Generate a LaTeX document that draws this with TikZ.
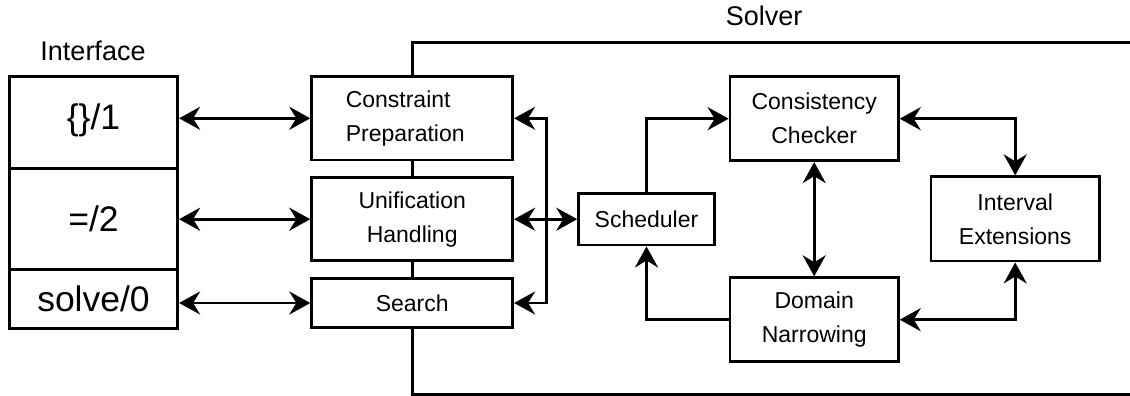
\documentclass[tikz,border=0pt]{standalone}
\usepackage{fontspec}
\setmainfont{Liberation Sans}
\usetikzlibrary{arrows.meta}
\begin{document}
\begin{tikzpicture}[x=1pt,y=-1pt,
  lw/.style={line width=2.8pt},
  blk/.style={lw,draw=black,fill=white,inner sep=0pt,align=center,
    font=\fontsize{23}{34}\selectfont},
  cell/.style={lw,draw=black,fill=white,inner sep=0pt,align=center,
    minimum width=168.4pt,font=\fontsize{35.5}{40}\selectfont},
  lbl/.style={anchor=base,inner sep=0pt,font=\fontsize{27}{32}\selectfont},
  conn/.style={lw,line join=miter},
  tip/.tip={Stealth[length=21pt,width=23pt,inset=7pt]},
  >=tip]
\useasboundingbox (0,0) rectangle (1130,396);
% solver frame
\draw[lw] (1140,42.7) -- (412.2,42.7) -- (412.2,394.3) -- (1140,394.3);
% labels
\node[lbl] (tint) at (93,60) {Interface};
\node[lbl] (tsol) at (764.2,26) {Solver};
% interface stack
\node[cell,minimum height=91.6pt] (if1) at (93.5,122.5) {\raisebox{2.5pt}[\height][\depth]{\{\}/1}};
\node[cell,minimum height=101pt] (if2) at (93.5,218.8) {=/2};
\node[cell,minimum height=59pt] (if3) at (93.5,298.8) {solve/0};
% solver boxes
\node[blk,align=left,minimum width=201pt,minimum height=83.3pt] (cp) at (412.2,118.3) {Constraint\\Preparation\hspace*{14pt}};
\node[blk,minimum width=201pt,minimum height=83pt] (uh) at (412.2,219.2) {Unification\\Handling};
\node[blk,minimum width=201pt,minimum height=49.4pt] (se) at (412.2,303) {Search};
\node[blk,minimum width=135.7pt,minimum height=51.7pt] (sch) at (646.5,219.2) {Scheduler};
\node[blk,minimum width=168.3pt,minimum height=84pt] (cc) at (814.2,118.7) {Consistency\\Checker};
\node[blk,minimum width=168.3pt,minimum height=84pt] (dn) at (814.2,319.7) {Domain\\Narrowing};
\node[blk,minimum width=168.3pt,minimum height=84.3pt] (ie) at (1015.2,218.9) {Interval\\Extensions};
\coordinate (bus) at (546.7,219.2);
% connectors
\draw[conn,<->] (if1.east |- cp.west) -- (cp.west);
\draw[conn,<->] (if2.east |- uh.west) -- (uh.west);
\draw[conn,<->] (if3.east |- se.west) -- (se.west);
\draw[conn,<->] (cp.east) -- (cp.east -| bus) |- (se.east);
\draw[conn,<->] (uh.east) -- (sch.west);
\draw[conn,->] (sch.north) |- (cc.west);
\draw[conn,->] (dn.west) -| (sch.south);
\draw[conn,<->] (cc.south) -- (dn.north);
\draw[conn,<->] (cc.east) -| (ie.north);
\draw[conn,<->] (dn.east) -| (ie.south);
\end{tikzpicture}
\end{document}
